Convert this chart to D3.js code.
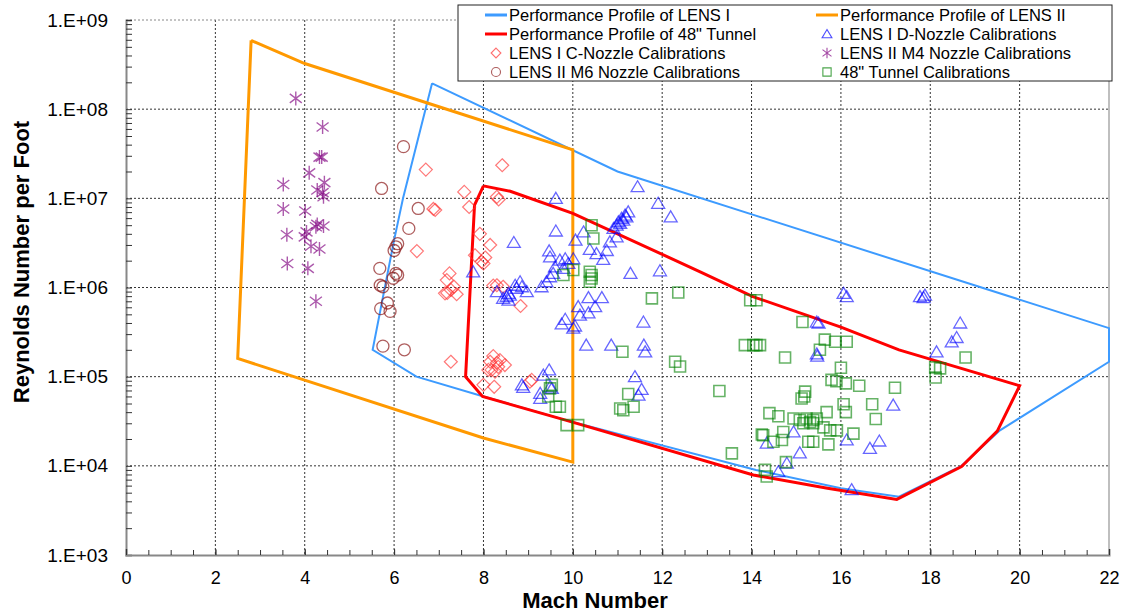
<!DOCTYPE html>
<html>
<head>
<meta charset="utf-8">
<script src="https://cdn.jsdelivr.net/npm/d3@7"></script>
<style>
  body { margin: 0; background: #fff; }
  svg { font-family: "Liberation Sans", Arial, sans-serif; }
</style>
</head>
<body>
<svg id="chart" width="1124" height="613"></svg>
<script>
// performance envelopes [mach, Re/ft]
var lens1Profile = [[6.85,1.95e8],[11,2.0e7],[22,3.5e5],[22,1.47e5],[19.56,2.5e4],[18.7,1.0e4],[17.3,4.5e3],[16,5.6e3],[14.1,9e3],[9.8,3.3e4],[8.0,6e4],[6.5,1e5],[5.52,2e5],[6.0,3.4e6],[6.2,1e7],[6.85,1.95e8]]
var lens2Profile = [[2.8,5.9e8],[4,3.25e8],[10,3.5e7],[10,1.1e4],[8,2.05e4],[2.5,1.6e5],[2.8,5.9e8]]
var tunnelProfile = [[8.0,1.38e7],[8.6,1.2e7],[10,6.8e6],[12.85,1.5e6],[14.03,7.9e5],[16,3.6e5],[17.3,2.0e5],[20,7.9e4],[19.5,2.45e4],[18.7,9.8e3],[17.25,4.2e3],[15.7,5.6e3],[14.04,7.9e3],[9.8,3.3e4],[7.98,6e4],[7.6,1e5],[7.8,8.4e6],[8.0,1.38e7]]

// calibration points
var lens1D = [[9.62,1.0e7],[11.45,1.35e7],[11.91,8.8e6],[12.19,6.2e6],
  [11.24,7.06e6],[11.17,6.49e6],[11.09,5.96e6],[11.02,5.46e6],[10.98,5.0e6],[10.91,4.6e6],[11.06,5.24e6],[11.13,5.7e6],[11.2,6.2e6],
  [9.62,4.3e6],[8.68,3.2e6],[7.77,1.5e6],
  [10.24,4.2e6],[10.06,3.4e6],[10.38,2.67e6],[10.53,2.4e6],[10.68,2.07e6],[10.76,2.6e6],[10.83,3.25e6],[10.98,3.7e6],
  [9.47,2.58e6],[9.49,2.2e6],[9.60,1.7e6],[9.71,2.03e6],[9.83,2.1e6],[9.90,1.86e6],[10.01,2.1e6],[9.79,1.64e6],
  [11.29,1.44e6],[11.95,1.54e6],
  [9.49,1.32e6],[9.30,1.02e6],[9.41,1.16e6],[9.56,1.44e6],
  [8.56,8.6e5],[8.52,7.9e5],[8.56,7.2e5],[8.59,8.2e5],[8.44,7.55e5],[8.30,9.0e5],[8.82,1.16e6],[8.86,1.02e6],[8.74,9.8e5],[8.97,9.0e5],[8.71,1.06e6],
  [10.35,7.7e5],[10.65,7.7e5],[10.12,6.1e5],[10.50,6.1e5],[10.35,5.2e5],[10.16,4.9e5],[9.83,4.4e5],[10.05,3.7e5],[9.75,3.9e5],[10.01,3.5e5],
  [11.58,4.1e5],[10.30,2.26e5],[10.86,2.26e5],[11.59,2.26e5],[11.62,1.9e5],
  [11.39,1.0e5],[11.54,7.2e4],[11.47,6.2e4],
  [9.47,1.19e5],[9.34,1.04e5],[8.86,8.1e4],[8.89,7.6e4],[9.27,6.5e4],[9.27,5.7e4],[9.49,7.7e4],[9.53,7.4e4],
  [16.06,8.6e5],[16.13,7.9e5],[15.46,4.1e5],[15.5,4.0e5],[15.46,1.8e5],[15.47,1.7e5],
  [14.94,2.4e4],[14.34,1.8e4],[15.08,1.4e4],[14.6,8.6e3],[14.79,1.07e4],[16.13,1.95e4],[16.65,1.57e4],[16.86,1.9e4],
  [17.77,7.9e5],[17.85,7.7e5],[17.88,8.2e5],[18.67,4.0e5],[18.59,2.75e5],[18.48,2.46e5],[18.14,1.9e5],[17.17,4.8e4],[16.24,5.4e3]]

var lens1C = [[6.71,2.1e7],[8.42,2.35e7],[7.57,1.18e7],[8.30,1.04e7],[8.34,9.7e6],[7.68,8.0e6],[6.88,7.6e6],[6.92,7.4e6],[7.92,4.0e6],[8.15,3.0e6],
  [6.51,2.56e6],[7.81,2.3e6],[8.04,2.17e6],[7.96,1.94e6],[8.0,1.86e6],[7.24,1.44e6],[7.18,1.21e6],[7.34,1.02e6],[7.27,9.4e5],[7.14,8.6e5],
  [7.19,8.7e5],[7.40,8.4e5],[8.22,1.05e6],[8.30,1.06e6],[8.44,1.02e6],[8.83,6.2e5],[7.27,1.47e5],[8.22,1.7e5],[8.15,1.47e5],[8.30,1.43e5],
  [8.37,1.53e5],[8.48,1.35e5],[8.33,1.29e5],[8.18,1.19e5],[8.11,1.19e5],[8.26,1.14e5],[8.0,8.1e4],[8.24,7.7e4],[9.08,9.2e4],[9.04,8.8e4]]

var lens2M4 = [[3.80,1.32e8],[4.40,6.3e7],[4.38,2.9e7],[4.33,2.9e7],[4.10,1.93e7],[3.52,1.43e7],[4.44,1.5e7],[4.28,1.24e7],[4.40,1.16e7],[4.42,1.04e7],
  [3.52,7.6e6],[4.01,7.2e6],[3.60,3.9e6],[4.04,4.2e6],[4.28,5.1e6],[4.42,4.9e6],[4.25,4.8e6],[4.0,3.7e6],[4.14,2.9e6],[4.33,2.7e6],
  [3.61,1.86e6],[4.07,1.64e6],[4.25,7.0e5]]

var lens2M6 = [[6.21,3.8e7],[5.72,1.29e7],[6.54,7.7e6],[6.33,4.6e6],[6.08,3.1e6],[6.04,2.86e6],[6.0,2.6e6],[5.68,1.64e6],[6.04,1.44e6],
  [6.08,1.38e6],[5.98,1.27e6],[5.69,1.06e6],[5.75,1.02e6],[5.85,6.7e5],[5.70,5.8e5],[5.91,5.4e5],[5.75,2.2e5],[6.23,2.0e5]]

var tunnel48 = [[10.42,5.0e6],[10.46,3.55e6],[10.01,1.57e6],[9.79,1.38e6],[10.38,1.5e6],[10.42,1.38e6],[10.42,1.26e6],[10.38,1.16e6],
  [9.53,8.1e4],[9.49,7.4e4],[9.45,6.0e4],[9.62,4.6e4],
  [11.77,7.55e5],[12.36,8.8e5],[11.11,1.9e5],[12.29,1.47e5],[12.40,1.3e5],
  [11.24,6.4e4],[11.36,4.6e4],[11.06,4.4e4],[11.13,4.2e4],
  [13.97,7.2e5],[14.11,7.2e5],[15.14,4.1e5],[15.64,2.6e5],[15.87,2.46e5],[16.13,2.46e5],[15.53,2.0e5],
  [13.85,2.26e5],[14.04,2.26e5],[14.11,2.26e5],[14.19,2.26e5],[14.75,1.64e5],[16.0,1.26e5],
  [15.79,9.2e4],[15.9,8.9e4],[16.11,8.4e4],[16.41,7.9e4],[13.28,6.9e4],[15.2,6.8e4],[15.18,6.0e4],[15.12,5.7e4],
  [16.06,4.9e4],[16.11,4.0e4],[16.7,4.9e4],[16.78,3.35e4],
  [14.40,3.9e4],[14.6,3.6e4],[14.94,3.4e4],[15.08,3.26e4],[15.23,3.4e4],[15.31,3.1e4],[15.38,3.26e4],[15.46,3.4e4],[15.68,4.0e4],
  [15.16,3.0e4],[15.38,3.0e4],[15.61,2.7e4],[15.76,2.5e4],[15.91,2.5e4],[14.71,2.4e4],[14.23,2.25e4],[14.49,1.86e4],[14.68,1.95e4],
  [15.27,1.86e4],[15.38,1.86e4],[15.72,1.74e4],[16.28,2.3e4],
  [13.56,1.38e4],[14.3,9.0e3],[14.34,7.6e3],[14.77,1.1e4],
  [10.12,2.86e4],[9.86,2.86e4],[9.71,4.6e4],
  [17.21,7.5e4],[18.11,1.27e5],[18.22,1.24e5],[18.12,9.8e4],[18.79,1.64e5],[14.26,2.2e4]]

var xTicks = [0,2,4,6,8,10,12,14,16,18,20,22]
var yTicks = [1e3,1e4,1e5,1e6,1e7,1e8,1e9]
var yTickLabels = ["1.E+03","1.E+04","1.E+05","1.E+06","1.E+07","1.E+08","1.E+09"]

var dims = { left: 126, right: 1109, top: 20, bottom: 555 }

var svg = d3.select("#chart")

var xScale = d3.scaleLinear().domain([0, 22]).range([dims.left, dims.right])
var yScale = d3.scaleLog().domain([1e3, 1e9]).range([dims.bottom, dims.top])

// gridlines
var grid = svg.append("g")
grid.selectAll("line.v")
    .data(xTicks.slice(1, -1))
    .enter().append("line")
    .attr("x1", d => xScale(d)).attr("x2", d => xScale(d))
    .attr("y1", dims.top).attr("y2", dims.bottom)
    .attr("stroke", "#333").attr("stroke-width", 1).attr("stroke-dasharray", "2,2")
grid.selectAll("line.h")
    .data(yTicks.slice(1))
    .enter().append("line")
    .attr("x1", dims.left).attr("x2", dims.right)
    .attr("y1", d => yScale(d)).attr("y2", d => yScale(d))
    .attr("stroke", d => d == 1e9 ? "#888" : "#333").attr("stroke-width", 1).attr("stroke-dasharray", "2,2")

// right border
svg.append("line")
   .attr("x1", dims.right).attr("x2", dims.right)
   .attr("y1", dims.top).attr("y2", dims.bottom)
   .attr("stroke", "#aaa").attr("stroke-width", 1.5)

// axes
var minorY = []
for (var e = 3; e < 9; e++) for (var m = 2; m < 10; m++) minorY.push(m * Math.pow(10, e))

var yAxisGen = d3.axisLeft(yScale).tickValues(yTicks)
    .tickFormat((d, i) => yTickLabels[i]).tickSize(-6).tickPadding(18)
var yAxis = svg.append("g")
    .attr("transform", `translate(${dims.left},0)`)
    .call(yAxisGen)
svg.append("g")
    .attr("transform", `translate(${dims.left},0)`)
    .call(d3.axisLeft(yScale).tickValues(minorY).tickFormat("").tickSize(-6))
    .select(".domain").remove()

var minorX = d3.range(0, 22.01, 0.5)
var xAxisGen = d3.axisBottom(xScale).tickValues(xTicks).tickSize(-6).tickPadding(16)
var xAxis = svg.append("g")
    .attr("transform", `translate(0,${dims.bottom})`)
    .call(xAxisGen)
svg.append("g")
    .attr("transform", `translate(0,${dims.bottom})`)
    .call(d3.axisBottom(xScale).tickValues(minorX).tickFormat("").tickSize(-5))
    .select(".domain").remove()

svg.selectAll(".domain").attr("stroke", "#888").attr("stroke-width", 2)
svg.selectAll(".tick line").attr("stroke", "#333")
yAxis.selectAll(".tick text").attr("font-size", 19)
xAxis.selectAll(".tick text").attr("font-size", 18)
svg.selectAll(".tick text").attr("fill", "#000")
    .attr("font-family", "Liberation Sans, Arial, sans-serif")

// profiles
var line = d3.line().x(d => xScale(d[0])).y(d => yScale(d[1]))
svg.append("path").datum(lens1Profile).attr("d", line)
   .attr("fill", "none").attr("stroke", "#3d9bff").attr("stroke-width", 2)
svg.append("path").datum(lens2Profile).attr("d", line)
   .attr("fill", "none").attr("stroke", "#ff9900").attr("stroke-width", 3)
svg.append("path").datum(tunnelProfile).attr("d", line)
   .attr("fill", "none").attr("stroke", "#ff0000").attr("stroke-width", 3)

// marker shapes
var triPath = "M0,-6L6.5,5L-6.5,5Z"
var diaPath = "M0,-6.5L6.5,0L0,6.5L-6.5,0Z"
var sqPath = "M-5.5,-5.5H5.5V5.5H-5.5Z"
var starPath = "M0,-7V7M-6,-4.5L6,4.5M-6,4.5L6,-4.5"
var circPath = "M6,0A6,6 0 1,1 -6,0A6,6 0 1,1 6,0Z"

var series = [
  { data: lens2M4, path: starPath, color: "#800080", op: 0.65, sw: 1.4 },
  { data: lens2M6, path: circPath, color: "#8b1a1a", op: 0.7, sw: 1.3 },
  { data: lens1C, path: diaPath, color: "#ff3030", op: 0.65, sw: 1.2 },
  { data: lens1D, path: triPath, color: "#0000ff", op: 0.6, sw: 1.3 },
  { data: tunnel48, path: sqPath, color: "#008000", op: 0.6, sw: 1.6 }
]
series.forEach(function(s) {
  svg.append("g").selectAll("path")
     .data(s.data).enter().append("path")
     .attr("d", s.path)
     .attr("transform", d => `translate(${xScale(d[0])},${yScale(d[1])})`)
     .attr("fill", "none").attr("stroke", s.color)
     .attr("stroke-opacity", s.op).attr("stroke-width", s.sw)
})

// legend
var legend = svg.append("g")
legend.append("rect")
      .attr("x", 458).attr("y", 5).attr("width", 654).attr("height", 76)
      .attr("fill", "#fff").attr("stroke", "#222").attr("stroke-width", 1)

var legendItems = [
  { label: "Performance Profile of LENS I", col: 0, row: 0, line: "#3d9bff" },
  { label: "Performance Profile of LENS II", col: 1, row: 0, line: "#ff9900" },
  { label: "Performance Profile of 48\" Tunnel", col: 0, row: 1, line: "#ff0000" },
  { label: "LENS I D-Nozzle Calibrations", col: 1, row: 1, path: triPath, color: "#0000ff" },
  { label: "LENS I C-Nozzle Calibrations", col: 0, row: 2, path: diaPath, color: "#ff3030" },
  { label: "LENS II M4 Nozzle Calibrations", col: 1, row: 2, path: starPath, color: "#800080" },
  { label: "LENS II M6 Nozzle Calibrations", col: 0, row: 3, path: circPath, color: "#8b1a1a" },
  { label: "48\" Tunnel Calibrations", col: 1, row: 3, path: sqPath, color: "#008000" }
]
var colX = [485, 816]
var rowY = [15, 34, 53, 72]
legendItems.forEach(function(it) {
  var x0 = colX[it.col], y0 = rowY[it.row]
  if (it.line) {
    legend.append("line").attr("x1", x0).attr("x2", x0 + 22).attr("y1", y0).attr("y2", y0)
          .attr("stroke", it.line).attr("stroke-width", 3)
  } else {
    legend.append("path").attr("d", it.path)
          .attr("transform", `translate(${x0 + 11},${y0}) scale(0.75)`)
          .attr("fill", "none").attr("stroke", it.color).attr("stroke-opacity", 0.7).attr("stroke-width", 1.5)
  }
  legend.append("text").attr("x", x0 + 24).attr("y", y0).attr("dy", "0.35em")
        .attr("font-size", 16.5).text(it.label)
})

// axis titles
svg.append("text")
   .attr("text-anchor", "middle")
   .attr("font-size", 22).attr("font-weight", "bold")
   .attr("transform", "translate(29, 262) rotate(-90)")
   .text("Reynolds Number per Foot")
svg.append("text")
   .attr("text-anchor", "middle")
   .attr("font-size", 22).attr("font-weight", "bold")
   .attr("x", 595).attr("y", 608)
   .text("Mach Number")
</script>
</body>
</html>
